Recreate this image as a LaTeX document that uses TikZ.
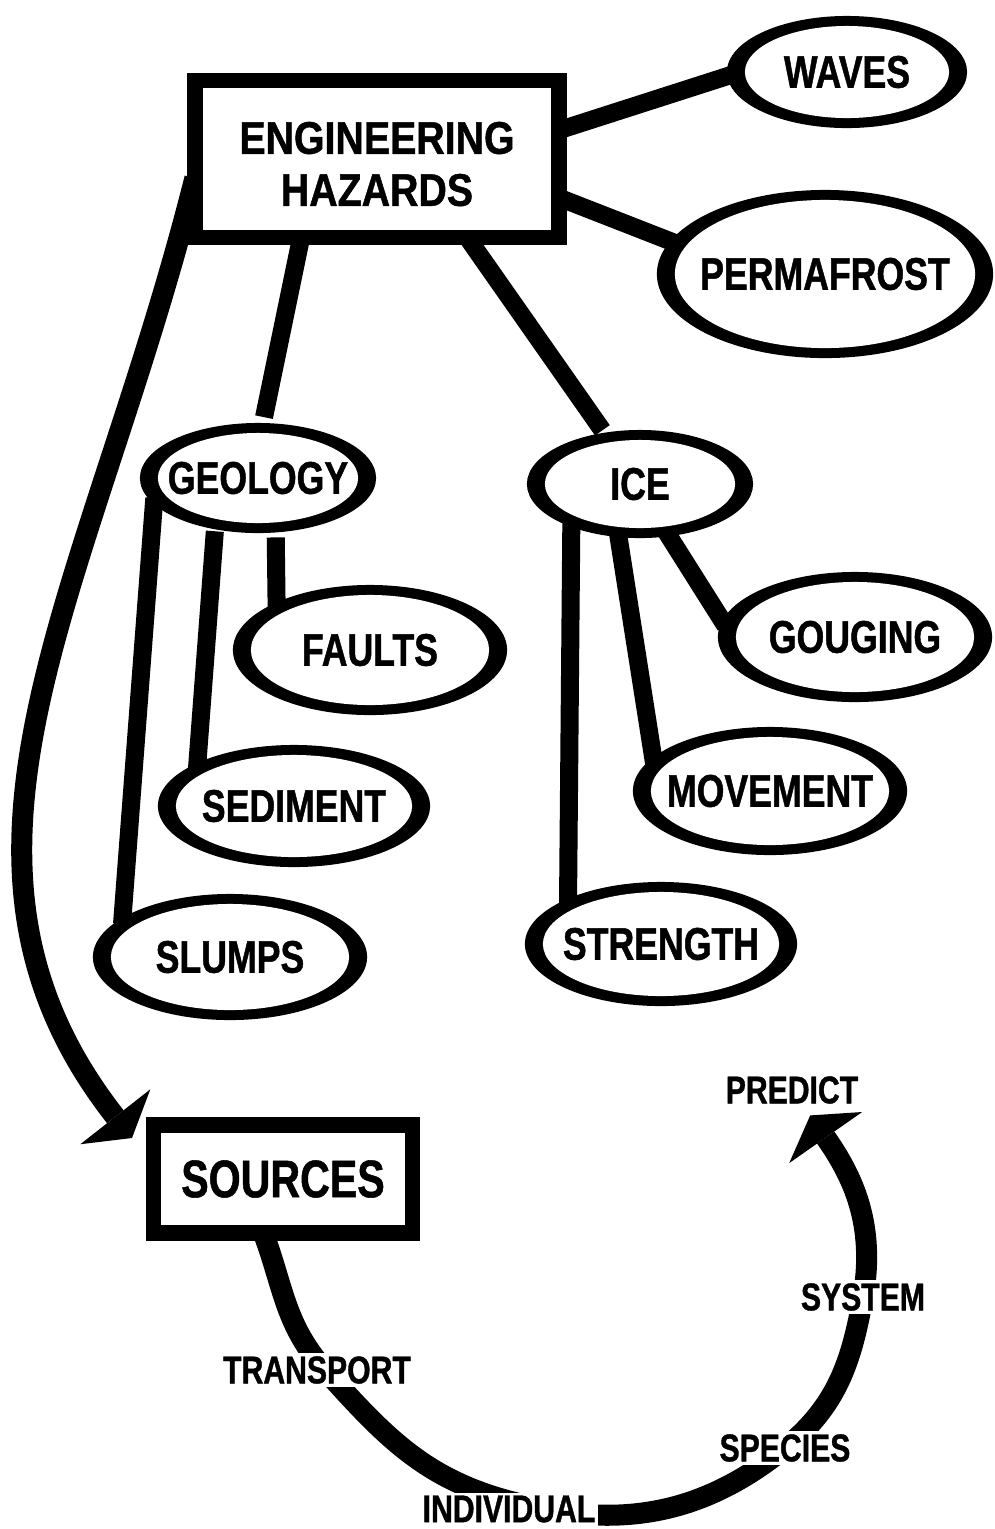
\documentclass[tikz,border=0pt]{standalone}
\usepackage{fontspec}
\newfontfamily\ovalfont{Liberation Sans}[FakeStretch=0.78, FakeBold=1]
\newfontfamily\boxfont{Liberation Sans}[FakeStretch=0.86, FakeBold=1]
\usetikzlibrary{shapes.geometric, arrows.meta}
\pgfdeclarelayer{back}
\pgfsetlayers{back,main}

\tikzset{
  ovalout/.style={ellipse, fill=black, inner sep=0pt, outer sep=0pt},
  ovalin/.style={ellipse, fill=white, inner sep=0pt, outer sep=0pt,
    font=\ovalfont\bfseries\fontsize{13}{15}\selectfont},
  frame/.style={rectangle, draw=black, fill=white, line width=0.155cm,
    inner sep=0pt, outer sep=0pt},
  link/.style={line width=0.18cm, shorten <=-0.06cm, shorten >=-0.06cm},
  sweep/.style={line width=0.21cm,
    -{Triangle[length=0.27cm, width=0.89cm, line width=0pt]}},
  arclabel/.style={fill=white, inner sep=0.03cm,
    font=\ovalfont\bfseries\fontsize{11}{13}\selectfont},
}

% thick-rimmed oval: name, x, y, outer x radius, outer y radius, text
\newcommand\hazoval[6]{%
  \node[ovalout, minimum width={#4*0.02cm}, minimum height={#5*0.02cm}]
    (#1) at (#2,#3) {};
  \node[ovalin, minimum width={(#4-18)*0.02cm}, minimum height={(#5-10)*0.02cm}]
    (#1-in) at (#2,#3) {\hbox to 0pt{\hss#6\hss}};
}

\begin{document}
\begin{tikzpicture}[x=0.01cm, y=0.01cm]
\useasboundingbox (0,0) rectangle (995,-1529);

% boxes
\node[frame, minimum width=3.64cm, minimum height=1.57cm, align=center,
  font=\boxfont\bfseries\fontsize{13}{14.8}\selectfont] (haz) at (377,-159)
  {\rule{0pt}{0.42cm}ENGINEERING\\HAZARDS};
\node[frame, minimum width=2.59cm, minimum height=1.08cm,
  font=\ovalfont\bfseries\fontsize{15}{17}\selectfont] (sources) at (283,-1179)
  {SOURCES};

% ovals
\hazoval{waves}{847}{-72}{120}{56}{WAVES}
\hazoval{perma}{825}{-274}{168}{84}{PERMAFROST}
\hazoval{geology}{258}{-478}{118}{55}{GEOLOGY}
\hazoval{ice}{640}{-484}{113}{54}{ICE}
\hazoval{faults}{370}{-650}{137}{65}{FAULTS}
\hazoval{gouging}{855}{-637}{137}{65}{GOUGING}
\hazoval{sediment}{294}{-806}{136}{61}{SEDIMENT}
\hazoval{movement}{770}{-791}{137}{64}{MOVEMENT}
\hazoval{slumps}{230}{-957}{137}{63}{SLUMPS}
\hazoval{strength}{661}{-944}{136}{62}{STRENGTH}

% labels along the lower cycle
\node[arclabel] (predict)    at (792,-1090) {PREDICT};
\node[arclabel] (system)     at (863,-1297) {SYSTEM};
\node[arclabel] (species)    at (785,-1448) {SPECIES};
\node[arclabel] (individual) at (509,-1509) {INDIVIDUAL};
\node[arclabel] (transport)  at (317,-1370) {TRANSPORT};

\coordinate (aim) at (132,-1138);

\begin{pgfonlayer}{back}
  % hazard tree
  \draw[link] (haz.9)   -- (waves.182);
  \draw[link] (haz.-12) -- (perma.168);
  \draw[link, shorten >=0.06cm] (haz.-134) -- (geology.85);
  \draw[link, shorten >=0.03cm] (haz.-41) -- (ice.125);
  \draw[link] (geology.194) -- (slumps.160);
  \draw[link, shorten <=0.02cm] (geology.230) -- (sediment.156);
  \draw[link, shorten <=0.05cm] (geology.288) -- (faults.153);
  \draw[link] (ice.212) -- (strength.154);
  \draw[link] (ice.248) -- (movement.164);
  \draw[link] (ice.299) -- (gouging.173);

  % long sweep down to the sources
  \draw[sweep] (haz.186) .. controls (91.5,-589) and (-90,-855) .. (aim);

  % cycle from sources up to prediction
  \draw[sweep, shorten <=0.05cm] (sources.-110)
    to[out=-70, in=132] ([xshift=0.08cm]transport.center)
    to[out=-48, in=165] ([yshift=0.08cm]individual.center)
    to[out=-15, in=-141] (species.center)
    to[out=39, in=-100] (system.center)
    to[out=80, in=-55] ([xshift=0.06cm, yshift=-0.08cm]predict.-55);
\end{pgfonlayer}
\end{tikzpicture}
\end{document}
